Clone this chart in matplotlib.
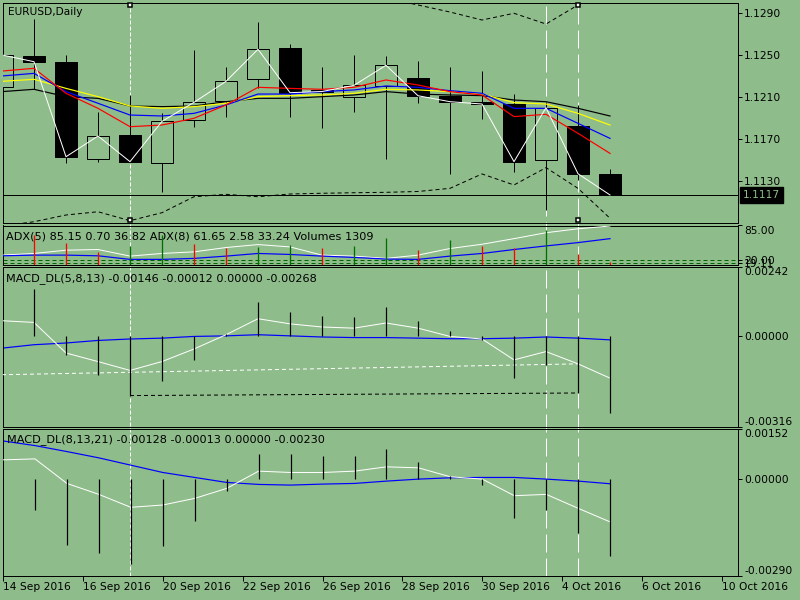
import numpy as np
import matplotlib
matplotlib.use("Agg")
import matplotlib.pyplot as plt
from matplotlib.lines import Line2D
from matplotlib.transforms import blended_transform_factory

nan = np.nan

# --- price data (daily bars) ---
opens = [1.12195, 1.12493, 1.12436, 1.11509, 1.11741, 1.11477, 1.11881, 1.12065, 1.12277, 1.12567,
         1.12174, 1.12106, 1.12208, 1.12284, 1.12115, 1.12055, 1.12039, 1.11500, 1.11824, 1.11370]
highs = [1.12522, 1.12846, 1.12503, 1.11963, 1.12122, 1.11951, 1.12550, 1.12389, 1.12817, 1.12608,
         1.12389, 1.12503, 1.12493, 1.12446, 1.12389, 1.12350, 1.12131, 1.12055, 1.12024, 1.11417]
lows = [1.12170, 1.12176, 1.11477, 1.11487, 1.11484, 1.11201, 1.11820, 1.11915, 1.12189, 1.11910,
        1.11810, 1.11963, 1.11510, 1.12049, 1.11372, 1.11893, 1.11391, 1.11027, 1.11312, 1.11170]
closes = [1.12503, 1.12439, 1.11534, 1.11731, 1.11487, 1.11871, 1.12052, 1.12252, 1.12557, 1.12144,
          1.12155, 1.12214, 1.12405, 1.12115, 1.12058, 1.12036, 1.11487, 1.12001, 1.11372, 1.11170]

# moving averages
ma_red = [1.12350, 1.12376, 1.12138, 1.11995, 1.11820, 1.11836, 1.11900, 1.12027, 1.12195, 1.12185,
          1.12176, 1.12195, 1.12265, 1.12217, 1.12154, 1.12122, 1.11916, 1.11938, 1.11757, 1.11566]
ma_blue = [1.12303, 1.12328, 1.12154, 1.12043, 1.11931, 1.11922, 1.11947, 1.12027, 1.12131, 1.12131,
           1.12154, 1.12170, 1.12208, 1.12195, 1.12163, 1.12138, 1.11995, 1.11995, 1.11852, 1.11709]
ma_yellow = [1.12252, 1.12271, 1.12185, 1.12106, 1.12017, 1.11995, 1.12011, 1.12043, 1.12106, 1.12116,
             1.12122, 1.12138, 1.12176, 1.12170, 1.12154, 1.12131, 1.12049, 1.12036, 1.11947, 1.11836]
ma_black = [1.12154, 1.12176, 1.12106, 1.12090, 1.12017, 1.12011, 1.12017, 1.12058, 1.12090, 1.12090,
            1.12106, 1.12122, 1.12154, 1.12131, 1.12122, 1.12116, 1.12074, 1.12058, 1.11995, 1.11922]

# envelope bands (dotted)
band_upper = [nan] * 12 + [1.13046, 1.12979, 1.12912, 1.12836, 1.12900, 1.12798, 1.12979, 1.13065]
band_lower = [1.10874, 1.10915, 1.10979, 1.11010, 1.10925, 1.11001, 1.11153, 1.11176, 1.11153, 1.11179,
              1.11186, 1.11191, 1.11195, 1.11203, 1.11233, 1.11370, 1.11265, 1.11430, 1.11233, 1.10948]

# --- ADX + volumes window ---
adx_white = [28.0, 31.2, 37.5, 38.8, 26.1, 31.2, 34.3, 42.6, 48.3, 43.8,
             28.0, 26.1, 21.7, 28.0, 40.7, 48.9, 59.7, 71.1, 78.7, 84.0]
adx_blue = [26.7, 28.0, 28.0, 26.7, 19.8, 19.8, 21.7, 26.1, 31.2, 29.3,
            26.1, 23.6, 20.4, 19.8, 26.1, 31.2, 38.8, 45.7, 52.1, 59.7]
adx_levels = [18.5, 12.2]
volumes = [nan, 11900, 9000, 5280, 7540, 11900, 8330, 7000, 7100, 7940,
           7020, 7540, 11000, 5950, 9920, 7540, 7020, 14170, 4370, 1309]

# --- MACD_DL(5,8,13) ---
macd1_main = [0.00055, 0.00049, -0.00058, -0.00088, -0.00119, -0.00088, -0.00044, 0.00006, 0.00062, 0.00044,
              0.00033, 0.00029, 0.00047, 0.00029, 0.00000, -0.00009, -0.00082, -0.00053, -0.00096, -0.00146]
macd1_signal = [-0.00041, -0.00029, -0.00023, -0.00014, -0.00009, -0.00006, 0.00000, 0.00002, 0.00006, 0.00002,
                -0.00002, -0.00004, -0.00004, -0.00006, -0.00008, -0.00008, -0.00006, -0.00002, -0.00006, -0.00012]
macd1_hist = [nan, 0.00166, -0.00064, -0.00134, -0.00207, -0.00155, -0.00084, 0.00009, 0.00120, 0.00085,
              0.00072, 0.00068, 0.00103, 0.00055, 0.00018, -0.00014, -0.00146, -0.00099, -0.00198, -0.00268]
trend_hi_bars, trend_hi_vals = [0, 18], [-0.00134, -0.00096]
trend_lo_bars, trend_lo_vals = [4, 18], [-0.00207, -0.00198]

# --- MACD_DL(8,13,21) ---
macd2_main = [0.00059, 0.00062, -0.00012, -0.00045, -0.00084, -0.00077, -0.00057, -0.00027, 0.00025, 0.00021,
              0.00021, 0.00025, 0.00038, 0.00035, 0.00008, 0.00001, -0.00049, -0.00045, -0.00087, -0.00128]
macd2_signal = [0.00116, 0.00102, 0.00084, 0.00065, 0.00043, 0.00021, 0.00006, -0.00009, -0.00015, -0.00017,
                -0.00014, -0.00012, -0.00005, 0.00001, 0.00005, 0.00006, 0.00006, 0.00001, -0.00005, -0.00013]
macd2_hist = [nan, -0.00092, -0.00196, -0.00221, -0.00256, -0.00200, -0.00124, -0.00034, 0.00076, 0.00076,
              0.00071, 0.00071, 0.00092, 0.00053, 0.00011, -0.00017, -0.00115, -0.00092, -0.00162, -0.00230]

# time axis labels (bar index -> label)
date_ticks = [0, 2.5, 5, 7.5, 10, 12.5, 15, 17.5, 20, 22.5]
date_labels = ["14 Sep 2016", "16 Sep 2016", "20 Sep 2016", "22 Sep 2016", "26 Sep 2016",
               "28 Sep 2016", "30 Sep 2016", "4 Oct 2016", "6 Oct 2016", "10 Oct 2016"]
price_ticks = [1.1130, 1.1170, 1.1210, 1.1250, 1.1290]

# vertical line objects on the chart
vline_bars = [4, 17, 18]
vline_selected = [4, 18]

BG = "#8fbc8b"
W, H = 800, 600


def px(v):
    # pixels -> points at dpi 100
    return v * 0.72


plt.rcParams["font.family"] = ["DejaVu Sans"]
plt.rcParams["font.size"] = 7.7
plt.rcParams["lines.scale_dashes"] = False

fig = plt.figure(figsize=(8, 6), dpi=100, facecolor=BG)
x = np.arange(len(closes))
X_LEFT, X_RIGHT = (3 - 2) / 32, (738 - 2) / 32  # bar spacing of 32 px


def style_y(ax):
    ax.yaxis.tick_right()
    ax.tick_params(axis="y", direction="out", length=px(4), width=px(1), pad=px(2), labelsize=7.7)


def add_panel(top, bottom):
    ax = fig.add_axes([3 / W, 1 - bottom / H, 735 / W, (bottom - top) / H])
    ax.set_facecolor("none")
    ax.set_xlim(X_LEFT, X_RIGHT)
    for s in ax.spines.values():
        s.set_linewidth(px(1))
        s.set_color("black")
    style_y(ax)
    ax.tick_params(axis="x", bottom=False, labelbottom=False)
    return ax


def panel_title(ax, text, dx, dy, size=8.1):
    ax.annotate(text, xy=(0, 1), xycoords="axes fraction", xytext=(px(dx), -px(dy)),
                textcoords="offset points", ha="left", va="center", fontsize=size, zorder=10)


# ---------------- main price window ----------------
ax_main = add_panel(3, 223.3)
ax_main.set_ylim(1.10900, 1.12998)
o, c = np.array(opens), np.array(closes)
bull = c >= o
ax_main.vlines(x, lows, highs, color="black", lw=px(1), zorder=2)
ax_main.bar(x, np.maximum(np.abs(c - o), 0.00002), bottom=np.minimum(o, c), width=0.68,
            color=np.where(bull, BG, "black"), edgecolor="black", linewidth=px(1), zorder=3)
ax_main.axhline(closes[-1], color="black", lw=px(1), zorder=1.5)
for vals, col in [(ma_black, "black"), (ma_yellow, "#ffff00"), (ma_blue, "#0000ff"), (ma_red, "#ff0000")]:
    ax_main.plot(x, vals, color=col, lw=px(1.2), zorder=4)
for band in (band_upper, band_lower):
    ax_main.plot(x, band, color="black", lw=px(1), dashes=(px(4), px(3)), zorder=4)
ax_main.plot(x, closes, color="white", lw=px(1), zorder=5)
ax_main.set_yticks(price_ticks, [f"{p:.4f}" for p in price_ticks])
ax_main.annotate(f"{closes[-1]:.4f}", xy=(1, closes[-1]), xycoords=("axes fraction", "data"),
                 xytext=(px(5), 0), textcoords="offset points", ha="left", va="center",
                 color=BG, fontsize=7.7, annotation_clip=False,
                 bbox=dict(boxstyle="square,pad=0.3", facecolor="black", edgecolor="black"))
panel_title(ax_main, "EURUSD,Daily", 4.7, 9, size=7.7)

# ---------------- ADX + volumes ----------------
ax_adx = add_panel(225.5, 265)
ax_adx.set_ylim(9, 85)
for lv in adx_levels:
    ax_adx.axhline(lv, color="#006400", lw=px(1), dashes=(px(4), px(3)), zorder=2)
ax_adx.plot(x, adx_white, color="white", lw=px(1), zorder=3)
ax_adx.plot(x, adx_blue, color="#0000ff", lw=px(1.2), zorder=3)
ax_vol = ax_adx.twinx()
ax_vol.set_facecolor("none")
ax_vol.set_ylim(0, 15880)
ax_vol.axis("off")
vol_colors = ["#007000"] + ["#007000" if volumes[i] > volumes[i - 1] else "#ff0000"
                            for i in range(1, len(volumes))]
ax_vol.vlines(x, 0, volumes, colors=vol_colors, lw=px(1.3))
# twinx puts the host ticks on the left, move them back
style_y(ax_adx)
ax_adx.set_yticks([85] + adx_levels, ["85.00", "20.00", "19.11"])
ax_adx.get_yticklabels()[0].set_va("top")
panel_title(ax_adx, "ADX(5) 85.15 0.70 36.82 ADX(8) 61.65 2.58 33.24 Volumes 1309", 3, 10.8)

# ---------------- MACD_DL(5,8,13) ----------------
ax_m1 = add_panel(267.3, 426.7)
ax_m1.set_ylim(-0.00316, 0.00242)
ax_m1.plot(x, macd1_signal, color="#0000ff", lw=px(1.2), zorder=2)
ax_m1.plot(x, macd1_main, color="white", lw=px(1), zorder=3)
ax_m1.plot(trend_hi_bars, trend_hi_vals, color="white", lw=px(1), dashes=(px(4), px(3)), zorder=3)
ax_m1.plot(trend_lo_bars, trend_lo_vals, color="black", lw=px(1), dashes=(px(4), px(3)), zorder=3)
ax_m1.vlines(x, 0, macd1_hist, color="black", lw=px(1.2), zorder=4)
ax_m1.set_yticks([0.00242, 0.0, -0.00316], ["0.00242", "0.00000", "-0.00316"])
ax_m1.get_yticklabels()[0].set_va("top")
ax_m1.get_yticklabels()[2].set_va("bottom")
panel_title(ax_m1, "MACD_DL(5,8,13) -0.00146 -0.00012 0.00000 -0.00268", 3, 11.7)

# ---------------- MACD_DL(8,13,21) ----------------
ax_m2 = add_panel(429, 575.7)
ax_m2.set_ylim(-0.00290, 0.00152)
ax_m2.plot(x, macd2_signal, color="#0000ff", lw=px(1.2), zorder=2)
ax_m2.plot(x, macd2_main, color="white", lw=px(1), zorder=3)
ax_m2.vlines(x, 0, macd2_hist, color="black", lw=px(1.2), zorder=4)
ax_m2.set_yticks([0.00152, 0.0, -0.00290], ["0.00152", "0.00000", "-0.00290"])
ax_m2.get_yticklabels()[0].set_va("top")
ax_m2.get_yticklabels()[2].set_va("bottom")
panel_title(ax_m2, "MACD_DL(8,13,21) -0.00128 -0.00013 0.00000 -0.00230", 3.7, 11)
ax_m2.set_xticks(date_ticks, date_labels)
ax_m2.tick_params(axis="x", bottom=True, labelbottom=True, direction="out",
                  length=px(5), width=px(1), pad=px(1.5), labelsize=7.7)
for lbl in ax_m2.get_xticklabels():
    lbl.set_ha("left")

# ---------------- vertical line objects (behind everything) ----------------
trans = blended_transform_factory(ax_main.transData, fig.transFigure)
for b in vline_bars:
    dash = (px(4), px(2)) if b == vline_bars[0] else (px(18), px(6))
    fig.add_artist(Line2D([b, b], [1 - 575.7 / H, 1], transform=trans, color="white",
                          lw=px(1), dashes=dash, zorder=-1))
for b in vline_selected:
    for ypx in (5, 220):
        ax_main.plot([b], [1 - ypx / H], transform=trans, marker="s", markersize=px(5),
                     markerfacecolor="white", markeredgecolor="black", markeredgewidth=px(1.5),
                     clip_on=False, zorder=11)

fig.savefig("out.png", dpi=100, facecolor=BG)
